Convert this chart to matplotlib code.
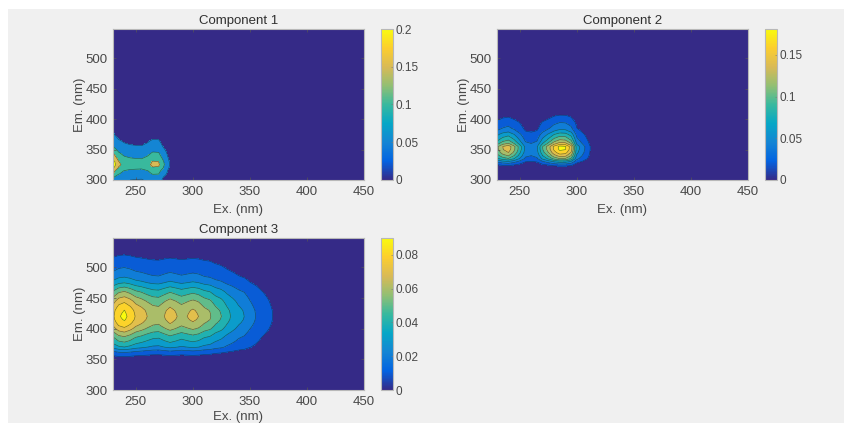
import numpy as np
import matplotlib
matplotlib.use("Agg")
import matplotlib.pyplot as plt
from matplotlib.colors import LinearSegmentedColormap, Normalize
from matplotlib.cm import ScalarMappable
from matplotlib.patches import Rectangle

plt.rcParams['font.family'] = ['Liberation Sans', 'DejaVu Sans']

# Wavelength grids (nm)
ex_nm = list(range(230, 455, 5))
em_nm = list(range(300, 555, 5))

# Component 1 loadings
c1_ex = [.235, .16, .135, .125, .122, .12, .135, .162, .158, .10, .045, .02, .005] + [0] * 32
c1_em = [.40, .46, .64, .72, .90, 1, .95, .83, .72, .64, .53, .43, .38, .33, .27, .23, .20, .14, .09, .05, .03] + [0] * 30

# Component 2 loadings
c2_ex = [.115, .14, .152, .125, .09, .055, .05, .057, .10, .13, .165, .186, .182, .15, .07, .048, .028, .005] + [0] * 27
c2_em = [0, 0, 0, 0, .03, .17, .37, .645, .80, .92, .99, 1, .80, .67, .57, .48, .37, .29, .25, .21, .155, .12, .08, .04, .01] + [0] * 26

# Component 3 loadings
c3_ex = [.078, .089, .0925, .087, .079, .075, .070, .066, .065, .070, .075, .071, .067, .070, .073, .070, .064, .061,
         .054, .050, .043, .038, .033, .030, .024, .020, .016, .013, .010, .006, .003] + [0] * 14
c3_em = [0] * 10 + [.06, .115, .19, .30, .43, .50, .565, .62, .69, .765, .84, .90, .95, .985, 1, .99, .975, .935, .89,
                    .845, .785, .72, .66, .585, .51, .43, .37, .315, .28, .245, .215, .19, .165, .135, .11, .09, .07,
                    .05, .03, .02, .01]

titles = ['Component 1', 'Component 2', 'Component 3']
level_steps = [0.05, 0.02, 0.01]
color_limits = [0.2, 0.181, 0.09]
x_ticks = [250, 300, 350, 400, 450]
y_ticks = [300, 350, 400, 450, 500]
cbar_ticks = [[0, .05, .1, .15, .2], [0, .05, .1, .15], [0, .02, .04, .06, .08]]
cbar_labels = [['0', '0.05', '0.1', '0.15', '0.2'], ['0', '0.05', '0.1', '0.15'], ['0', '0.02', '0.04', '0.06', '0.08']]

parula = LinearSegmentedColormap.from_list('parula', [
    '#352a87', '#0363e1', '#1485d4', '#06a7c6', '#38b99e',
    '#92bf73', '#d9ba56', '#fcce2e', '#f9fb0e'])

W, H = 845, 423
TXT = '#484848'
fig = plt.figure(figsize=(W / 100, H / 100), dpi=100, facecolor='white')
fig.add_artist(Rectangle((8 / W, 0), (W - 8) / W, 1 - 9 / H, transform=fig.transFigure,
                         facecolor='#f0f0f0', edgecolor='none', zorder=-10))


def box(x0, y0, x1, y1):
    return [x0 / W, 1 - y1 / H, (x1 - x0) / W, (y1 - y0) / H]


boxes = [(113, 29, 364, 180), (497, 29, 748, 180), (113, 238, 364, 390)]
cboxes = [(381, 29, 393, 180), (765, 29, 777, 180), (381, 238, 393, 390)]
loadings = [(c1_ex, c1_em), (c2_ex, c2_em), (c3_ex, c3_em)]
xlabel_pads = [4.5, 4.5, 2.5]

for i in range(3):
    ax = fig.add_axes(box(*boxes[i]))
    z = np.outer(loadings[i][1], loadings[i][0])
    step, vmax = level_steps[i], color_limits[i]
    levels = np.arange(0, vmax + step * 1.5, step)
    levels[-1] = max(levels[-1], z.max() + step)
    norm = Normalize(0, vmax)
    colors = [parula(norm(v)) for v in levels[:-1]]
    ax.contourf(ex_nm, em_nm, z, levels=levels, colors=colors)
    ax.contour(ex_nm, em_nm, z, levels=levels[1:-1], colors='#1c2a30', linewidths=0.45, alpha=0.65)
    ax.set_xlim(230, 450)
    ax.set_ylim(300, 548)
    ax.set_xticks(x_ticks)
    ax.set_yticks(y_ticks)
    ax.tick_params(direction='in', length=2.5, width=0.5, top=True, right=True, colors=TXT,
                   labelsize=9.5, pad=4, color='#555555')
    for s in ax.spines.values():
        s.set_color('#b8b8b8')
        s.set_linewidth(0.8)
    ax.set_xlabel('Ex. (nm)', fontsize=9.5, color=TXT, labelpad=xlabel_pads[i])
    ax.set_ylabel('Em. (nm)', fontsize=9.5, color=TXT, labelpad=-0.5)
    ax.set_title(titles[i], fontsize=9.5, color='#303030', pad=3.5)

    cax = fig.add_axes(box(*cboxes[i]))
    cb = fig.colorbar(ScalarMappable(norm=norm, cmap=parula), cax=cax)
    cb.set_ticks(cbar_ticks[i])
    cb.set_ticklabels(cbar_labels[i])
    cb.ax.tick_params(direction='in', length=1.5, width=0.4, colors=TXT, labelsize=8.5, pad=2, color='#777777')
    cb.outline.set_edgecolor('#b8b8b8')
    cb.outline.set_linewidth(0.8)

fig.savefig('out.png', dpi=100, facecolor=fig.get_facecolor())
